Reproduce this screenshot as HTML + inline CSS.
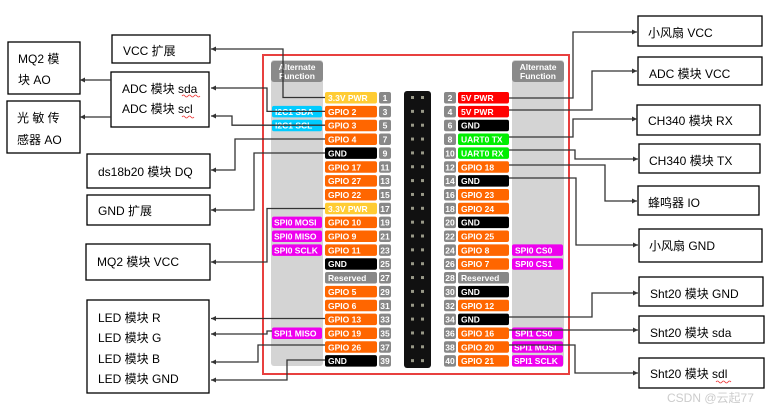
<!DOCTYPE html>
<html><head><meta charset="utf-8"><style>
html,body{margin:0;padding:0;background:#fff;}
svg{display:block;}
.p{font-family:"Liberation Sans","DejaVu Sans",sans-serif;font-size:8.5px;font-weight:bold;fill:#fff;}
.n{font-family:"Liberation Sans",sans-serif;font-size:8.5px;font-weight:bold;fill:#fff;text-anchor:middle;}
.b{font-family:"Liberation Sans","Noto Sans CJK SC",sans-serif;font-size:12px;fill:#000;}
.bx{fill:#fff;stroke:#000;stroke-width:1.3;}
.c{fill:none;stroke:#333;stroke-width:1.3;}
</style></head><body>
<svg width="773" height="412" viewBox="0 0 773 412" xmlns="http://www.w3.org/2000/svg">
<defs><marker id="a" markerWidth="6" markerHeight="6" refX="5" refY="3" orient="auto" markerUnits="userSpaceOnUse"><path d="M0,0.5 L5,3 L0,5.5 z" fill="#333"/></marker></defs>

<rect x="263" y="55" width="306" height="319" fill="none" stroke="#e8403f" stroke-width="2"/>
<rect x="271" y="60" width="52" height="306" rx="3" fill="#d4d4d4"/>
<rect x="512" y="60" width="52" height="306" rx="3" fill="#d4d4d4"/>
<rect x="271" y="61" width="52" height="21" rx="3" fill="#8a8a8a"/>
<rect x="512" y="61" width="52" height="21" rx="3" fill="#8a8a8a"/>
<text class="n" x="297" y="70">Alternate</text><text class="n" x="297" y="79">Function</text>
<text class="n" x="538" y="70">Alternate</text><text class="n" x="538" y="79">Function</text>

<rect x="272" y="105.85" width="50" height="11.5" rx="2" fill="#00ccff"/><text class="p" x="275" y="114.85">I2C1 SDA</text>
<rect x="272" y="119.7" width="50" height="11.5" rx="2" fill="#00ccff"/><text class="p" x="275" y="128.7">I2C1 SCL</text>
<rect x="272" y="216.65" width="50" height="11.5" rx="2" fill="#ee00ee"/><text class="p" x="274" y="225.65">SPI0 MOSI</text>
<rect x="272" y="230.5" width="50" height="11.5" rx="2" fill="#ee00ee"/><text class="p" x="274" y="239.5">SPI0 MISO</text>
<rect x="272" y="244.35" width="50" height="11.5" rx="2" fill="#ee00ee"/><text class="p" x="274" y="253.35">SPI0 SCLK</text>
<rect x="272" y="327.45" width="50" height="11.5" rx="2" fill="#ee00ee"/><text class="p" x="274" y="336.45">SPI1 MISO</text>
<rect x="512" y="244.35" width="51" height="11.5" rx="2" fill="#ee00ee"/><text class="p" x="515" y="253.35">SPI0 CS0</text>
<rect x="512" y="258.2" width="51" height="11.5" rx="2" fill="#ee00ee"/><text class="p" x="515" y="267.2">SPI0 CS1</text>
<rect x="512" y="327.45" width="51" height="11.5" rx="2" fill="#ee00ee"/><text class="p" x="515" y="336.45">SPI1 CS0</text>
<rect x="512" y="341.3" width="51" height="11.5" rx="2" fill="#ee00ee"/><text class="p" x="514" y="350.3">SPI1 MOSI</text>
<rect x="512" y="355.15" width="51" height="11.5" rx="2" fill="#ee00ee"/><text class="p" x="514" y="364.15">SPI1 SCLK</text>

<rect x="404" y="91" width="27" height="277" rx="3" fill="#111"/>

<g transform="translate(0,92)"><rect x="325" width="52" height="11.5" rx="2" fill="#ffcc33"/><text class="p" x="328" y="9">3.3V PWR</text><rect x="379" width="12" height="11.5" rx="2" fill="#888"/><text class="n" x="385" y="9">1</text><rect x="411" y="4" width="3" height="3" fill="#998"/><rect x="421" y="4" width="3" height="3" fill="#998"/><rect x="444" width="12" height="11.5" rx="2" fill="#888"/><text class="n" x="450" y="9">2</text><rect x="458" width="51" height="11.5" rx="2" fill="#ff0000"/><text class="p" x="461" y="9">5V PWR</text></g>
<g transform="translate(0,105.85)"><rect x="325" width="52" height="11.5" rx="2" fill="#ff6600"/><text class="p" x="328" y="9">GPIO 2</text><rect x="379" width="12" height="11.5" rx="2" fill="#888"/><text class="n" x="385" y="9">3</text><rect x="411" y="4" width="3" height="3" fill="#998"/><rect x="421" y="4" width="3" height="3" fill="#998"/><rect x="444" width="12" height="11.5" rx="2" fill="#888"/><text class="n" x="450" y="9">4</text><rect x="458" width="51" height="11.5" rx="2" fill="#ff0000"/><text class="p" x="461" y="9">5V PWR</text></g>
<g transform="translate(0,119.7)"><rect x="325" width="52" height="11.5" rx="2" fill="#ff6600"/><text class="p" x="328" y="9">GPIO 3</text><rect x="379" width="12" height="11.5" rx="2" fill="#888"/><text class="n" x="385" y="9">5</text><rect x="411" y="4" width="3" height="3" fill="#998"/><rect x="421" y="4" width="3" height="3" fill="#998"/><rect x="444" width="12" height="11.5" rx="2" fill="#888"/><text class="n" x="450" y="9">6</text><rect x="458" width="51" height="11.5" rx="2" fill="#000"/><text class="p" x="461" y="9">GND</text></g>
<g transform="translate(0,133.55)"><rect x="325" width="52" height="11.5" rx="2" fill="#ff6600"/><text class="p" x="328" y="9">GPIO 4</text><rect x="379" width="12" height="11.5" rx="2" fill="#888"/><text class="n" x="385" y="9">7</text><rect x="411" y="4" width="3" height="3" fill="#998"/><rect x="421" y="4" width="3" height="3" fill="#998"/><rect x="444" width="12" height="11.5" rx="2" fill="#888"/><text class="n" x="450" y="9">8</text><rect x="458" width="51" height="11.5" rx="2" fill="#00ee00"/><text class="p" x="461" y="9">UART0 TX</text></g>
<g transform="translate(0,147.4)"><rect x="325" width="52" height="11.5" rx="2" fill="#000"/><text class="p" x="328" y="9">GND</text><rect x="379" width="12" height="11.5" rx="2" fill="#888"/><text class="n" x="385" y="9">9</text><rect x="411" y="4" width="3" height="3" fill="#998"/><rect x="421" y="4" width="3" height="3" fill="#998"/><rect x="444" width="12" height="11.5" rx="2" fill="#888"/><text class="n" x="450" y="9">10</text><rect x="458" width="51" height="11.5" rx="2" fill="#00ee00"/><text class="p" x="461" y="9">UART0 RX</text></g>
<g transform="translate(0,161.25)"><rect x="325" width="52" height="11.5" rx="2" fill="#ff6600"/><text class="p" x="328" y="9">GPIO 17</text><rect x="379" width="12" height="11.5" rx="2" fill="#888"/><text class="n" x="385" y="9">11</text><rect x="411" y="4" width="3" height="3" fill="#998"/><rect x="421" y="4" width="3" height="3" fill="#998"/><rect x="444" width="12" height="11.5" rx="2" fill="#888"/><text class="n" x="450" y="9">12</text><rect x="458" width="51" height="11.5" rx="2" fill="#ff6600"/><text class="p" x="461" y="9">GPIO 18</text></g>
<g transform="translate(0,175.1)"><rect x="325" width="52" height="11.5" rx="2" fill="#ff6600"/><text class="p" x="328" y="9">GPIO 27</text><rect x="379" width="12" height="11.5" rx="2" fill="#888"/><text class="n" x="385" y="9">13</text><rect x="411" y="4" width="3" height="3" fill="#998"/><rect x="421" y="4" width="3" height="3" fill="#998"/><rect x="444" width="12" height="11.5" rx="2" fill="#888"/><text class="n" x="450" y="9">14</text><rect x="458" width="51" height="11.5" rx="2" fill="#000"/><text class="p" x="461" y="9">GND</text></g>
<g transform="translate(0,188.95)"><rect x="325" width="52" height="11.5" rx="2" fill="#ff6600"/><text class="p" x="328" y="9">GPIO 22</text><rect x="379" width="12" height="11.5" rx="2" fill="#888"/><text class="n" x="385" y="9">15</text><rect x="411" y="4" width="3" height="3" fill="#998"/><rect x="421" y="4" width="3" height="3" fill="#998"/><rect x="444" width="12" height="11.5" rx="2" fill="#888"/><text class="n" x="450" y="9">16</text><rect x="458" width="51" height="11.5" rx="2" fill="#ff6600"/><text class="p" x="461" y="9">GPIO 23</text></g>
<g transform="translate(0,202.8)"><rect x="325" width="52" height="11.5" rx="2" fill="#ffcc33"/><text class="p" x="328" y="9">3.3V PWR</text><rect x="379" width="12" height="11.5" rx="2" fill="#888"/><text class="n" x="385" y="9">17</text><rect x="411" y="4" width="3" height="3" fill="#998"/><rect x="421" y="4" width="3" height="3" fill="#998"/><rect x="444" width="12" height="11.5" rx="2" fill="#888"/><text class="n" x="450" y="9">18</text><rect x="458" width="51" height="11.5" rx="2" fill="#ff6600"/><text class="p" x="461" y="9">GPIO 24</text></g>
<g transform="translate(0,216.65)"><rect x="325" width="52" height="11.5" rx="2" fill="#ff6600"/><text class="p" x="328" y="9">GPIO 10</text><rect x="379" width="12" height="11.5" rx="2" fill="#888"/><text class="n" x="385" y="9">19</text><rect x="411" y="4" width="3" height="3" fill="#998"/><rect x="421" y="4" width="3" height="3" fill="#998"/><rect x="444" width="12" height="11.5" rx="2" fill="#888"/><text class="n" x="450" y="9">20</text><rect x="458" width="51" height="11.5" rx="2" fill="#000"/><text class="p" x="461" y="9">GND</text></g>
<g transform="translate(0,230.5)"><rect x="325" width="52" height="11.5" rx="2" fill="#ff6600"/><text class="p" x="328" y="9">GPIO 9</text><rect x="379" width="12" height="11.5" rx="2" fill="#888"/><text class="n" x="385" y="9">21</text><rect x="411" y="4" width="3" height="3" fill="#998"/><rect x="421" y="4" width="3" height="3" fill="#998"/><rect x="444" width="12" height="11.5" rx="2" fill="#888"/><text class="n" x="450" y="9">22</text><rect x="458" width="51" height="11.5" rx="2" fill="#ff6600"/><text class="p" x="461" y="9">GPIO 25</text></g>
<g transform="translate(0,244.35)"><rect x="325" width="52" height="11.5" rx="2" fill="#ff6600"/><text class="p" x="328" y="9">GPIO 11</text><rect x="379" width="12" height="11.5" rx="2" fill="#888"/><text class="n" x="385" y="9">23</text><rect x="411" y="4" width="3" height="3" fill="#998"/><rect x="421" y="4" width="3" height="3" fill="#998"/><rect x="444" width="12" height="11.5" rx="2" fill="#888"/><text class="n" x="450" y="9">24</text><rect x="458" width="51" height="11.5" rx="2" fill="#ff6600"/><text class="p" x="461" y="9">GPIO 8</text></g>
<g transform="translate(0,258.2)"><rect x="325" width="52" height="11.5" rx="2" fill="#000"/><text class="p" x="328" y="9">GND</text><rect x="379" width="12" height="11.5" rx="2" fill="#888"/><text class="n" x="385" y="9">25</text><rect x="411" y="4" width="3" height="3" fill="#998"/><rect x="421" y="4" width="3" height="3" fill="#998"/><rect x="444" width="12" height="11.5" rx="2" fill="#888"/><text class="n" x="450" y="9">26</text><rect x="458" width="51" height="11.5" rx="2" fill="#ff6600"/><text class="p" x="461" y="9">GPIO 7</text></g>
<g transform="translate(0,272.05)"><rect x="325" width="52" height="11.5" rx="2" fill="#888"/><text class="p" x="328" y="9">Reserved</text><rect x="379" width="12" height="11.5" rx="2" fill="#888"/><text class="n" x="385" y="9">27</text><rect x="411" y="4" width="3" height="3" fill="#998"/><rect x="421" y="4" width="3" height="3" fill="#998"/><rect x="444" width="12" height="11.5" rx="2" fill="#888"/><text class="n" x="450" y="9">28</text><rect x="458" width="51" height="11.5" rx="2" fill="#888"/><text class="p" x="461" y="9">Reserved</text></g>
<g transform="translate(0,285.9)"><rect x="325" width="52" height="11.5" rx="2" fill="#ff6600"/><text class="p" x="328" y="9">GPIO 5</text><rect x="379" width="12" height="11.5" rx="2" fill="#888"/><text class="n" x="385" y="9">29</text><rect x="411" y="4" width="3" height="3" fill="#998"/><rect x="421" y="4" width="3" height="3" fill="#998"/><rect x="444" width="12" height="11.5" rx="2" fill="#888"/><text class="n" x="450" y="9">30</text><rect x="458" width="51" height="11.5" rx="2" fill="#000"/><text class="p" x="461" y="9">GND</text></g>
<g transform="translate(0,299.75)"><rect x="325" width="52" height="11.5" rx="2" fill="#ff6600"/><text class="p" x="328" y="9">GPIO 6</text><rect x="379" width="12" height="11.5" rx="2" fill="#888"/><text class="n" x="385" y="9">31</text><rect x="411" y="4" width="3" height="3" fill="#998"/><rect x="421" y="4" width="3" height="3" fill="#998"/><rect x="444" width="12" height="11.5" rx="2" fill="#888"/><text class="n" x="450" y="9">32</text><rect x="458" width="51" height="11.5" rx="2" fill="#ff6600"/><text class="p" x="461" y="9">GPIO 12</text></g>
<g transform="translate(0,313.6)"><rect x="325" width="52" height="11.5" rx="2" fill="#ff6600"/><text class="p" x="328" y="9">GPIO 13</text><rect x="379" width="12" height="11.5" rx="2" fill="#888"/><text class="n" x="385" y="9">33</text><rect x="411" y="4" width="3" height="3" fill="#998"/><rect x="421" y="4" width="3" height="3" fill="#998"/><rect x="444" width="12" height="11.5" rx="2" fill="#888"/><text class="n" x="450" y="9">34</text><rect x="458" width="51" height="11.5" rx="2" fill="#000"/><text class="p" x="461" y="9">GND</text></g>
<g transform="translate(0,327.45)"><rect x="325" width="52" height="11.5" rx="2" fill="#ff6600"/><text class="p" x="328" y="9">GPIO 19</text><rect x="379" width="12" height="11.5" rx="2" fill="#888"/><text class="n" x="385" y="9">35</text><rect x="411" y="4" width="3" height="3" fill="#998"/><rect x="421" y="4" width="3" height="3" fill="#998"/><rect x="444" width="12" height="11.5" rx="2" fill="#888"/><text class="n" x="450" y="9">36</text><rect x="458" width="51" height="11.5" rx="2" fill="#ff6600"/><text class="p" x="461" y="9">GPIO 16</text></g>
<g transform="translate(0,341.3)"><rect x="325" width="52" height="11.5" rx="2" fill="#ff6600"/><text class="p" x="328" y="9">GPIO 26</text><rect x="379" width="12" height="11.5" rx="2" fill="#888"/><text class="n" x="385" y="9">37</text><rect x="411" y="4" width="3" height="3" fill="#998"/><rect x="421" y="4" width="3" height="3" fill="#998"/><rect x="444" width="12" height="11.5" rx="2" fill="#888"/><text class="n" x="450" y="9">38</text><rect x="458" width="51" height="11.5" rx="2" fill="#ff6600"/><text class="p" x="461" y="9">GPIO 20</text></g>
<g transform="translate(0,355.15)"><rect x="325" width="52" height="11.5" rx="2" fill="#000"/><text class="p" x="328" y="9">GND</text><rect x="379" width="12" height="11.5" rx="2" fill="#888"/><text class="n" x="385" y="9">39</text><rect x="411" y="4" width="3" height="3" fill="#998"/><rect x="421" y="4" width="3" height="3" fill="#998"/><rect x="444" width="12" height="11.5" rx="2" fill="#888"/><text class="n" x="450" y="9">40</text><rect x="458" width="51" height="11.5" rx="2" fill="#ff6600"/><text class="p" x="461" y="9">GPIO 21</text></g>

<rect class="bx" x="8" y="42" width="72" height="52"/><text class="b" x="18" y="63">MQ2  模</text><text class="b" x="18" y="84">块 AO</text>
<rect class="bx" x="7" y="101" width="73" height="52"/><text class="b" x="17" y="122">光 敏 传</text><text class="b" x="17" y="144">感器 AO</text>
<rect class="bx" x="112" y="35" width="98" height="28"/><text class="b" x="123" y="55">VCC 扩展</text>
<rect class="bx" x="111" y="72" width="98" height="55"/><text class="b" x="122" y="93">ADC 模块 sda</text><text class="b" x="122" y="113">ADC 模块 scl</text>
<path d="M182,96 q1.5,-2 3,0 t3,0 t3,0 t3,0 t3,0 t3,0 M182,117 q1.5,-2 3,0 t3,0 t3,0 t3,0" fill="none" stroke="#e33" stroke-width="0.8"/>
<rect class="bx" x="87" y="154" width="123" height="34"/><text class="b" x="98" y="176">ds18b20 模块 DQ</text>
<rect class="bx" x="87" y="195" width="123" height="30"/><text class="b" x="98" y="215">GND 扩展</text>
<rect class="bx" x="86" y="244" width="124" height="36"/><text class="b" x="97" y="266">MQ2 模块 VCC</text>
<rect class="bx" x="87" y="300" width="122" height="93"/>
<text class="b" x="98" y="322">LED 模块 R</text><text class="b" x="98" y="342">LED 模块 G</text><text class="b" x="98" y="363">LED 模块 B</text><text class="b" x="98" y="383">LED 模块 GND</text>

<rect class="bx" x="638" y="16" width="124" height="30"/><text class="b" x="648" y="37">小风扇 VCC</text>
<rect class="bx" x="638" y="57" width="124" height="28"/><text class="b" x="649" y="78">ADC 模块 VCC</text>
<rect class="bx" x="637" y="105" width="123" height="30"/><text class="b" x="648" y="125">CH340 模块 RX</text>
<rect class="bx" x="639" y="144" width="121" height="29"/><text class="b" x="649" y="165">CH340 模块 TX</text>
<rect class="bx" x="638" y="186" width="121" height="29"/><text class="b" x="648" y="207">蜂鸣器 IO</text>
<rect class="bx" x="639" y="229" width="123" height="33"/><text class="b" x="649" y="250">小风扇 GND</text>
<rect class="bx" x="639" y="277" width="124" height="29"/><text class="b" x="650" y="298">Sht20 模块 GND</text>
<rect class="bx" x="639" y="316" width="125" height="27"/><text class="b" x="650" y="337">Sht20 模块 sda</text>
<rect class="bx" x="639" y="358" width="125" height="30"/><text class="b" x="650" y="378">Sht20 模块 sdl</text>
<path d="M716,382 q1.5,-2 3,0 t3,0 t3,0 t3,0 t3,0" fill="none" stroke="#e33" stroke-width="0.8"/>

<path class="c" marker-end="url(#a)" d="M325,97.5 H283 V49 H211"/>
<path class="c" marker-end="url(#a)" d="M325,111.4 H267 V88 H211"/>
<path class="c" marker-end="url(#a)" d="M325,125.2 H232 V116 H211"/>
<path class="c" marker-end="url(#a)" d="M325,139 H235 V170 H211"/>
<path class="c" marker-end="url(#a)" d="M325,153 H254 V210 H211"/>
<path class="c" marker-end="url(#a)" d="M325,208.5 H267 V262 H211"/>
<path class="c" marker-end="url(#a)" d="M325,318.5 H211"/>
<path class="c" marker-end="url(#a)" d="M272,331 H267 V334 H211"/>
<path class="c" marker-end="url(#a)" d="M325,345 H258 V362 H211"/>
<path class="c" marker-end="url(#a)" d="M325,360 H287 V380 H211"/>
<path class="c" marker-end="url(#a)" d="M111,80 H80"/>
<path class="c" marker-end="url(#a)" d="M111,117 H80"/>

<path class="c" marker-end="url(#a)" d="M509,98 H573 V32 H637"/>
<path class="c" marker-end="url(#a)" d="M509,110 H592 V71 H637"/>
<path class="c" marker-end="url(#a)" d="M509,137 H573 V119 H637"/>
<path class="c" marker-end="url(#a)" d="M509,150 H575 V159 H638"/>
<path class="c" marker-end="url(#a)" d="M509,165 H605 V201 H637"/>
<path class="c" marker-end="url(#a)" d="M509,178 H576 V245 H638"/>
<path class="c" marker-end="url(#a)" d="M509,317 H592 V293 H638"/>
<path class="c" marker-end="url(#a)" d="M509,330 H638"/>
<path class="c" marker-end="url(#a)" d="M509,345 H575 V373 H638"/>

<text x="667" y="402" style="font-family:'Liberation Sans','Noto Sans CJK SC',sans-serif;font-size:12px;fill:#ccc">CSDN @云起77</text>
</svg>
</body></html>
